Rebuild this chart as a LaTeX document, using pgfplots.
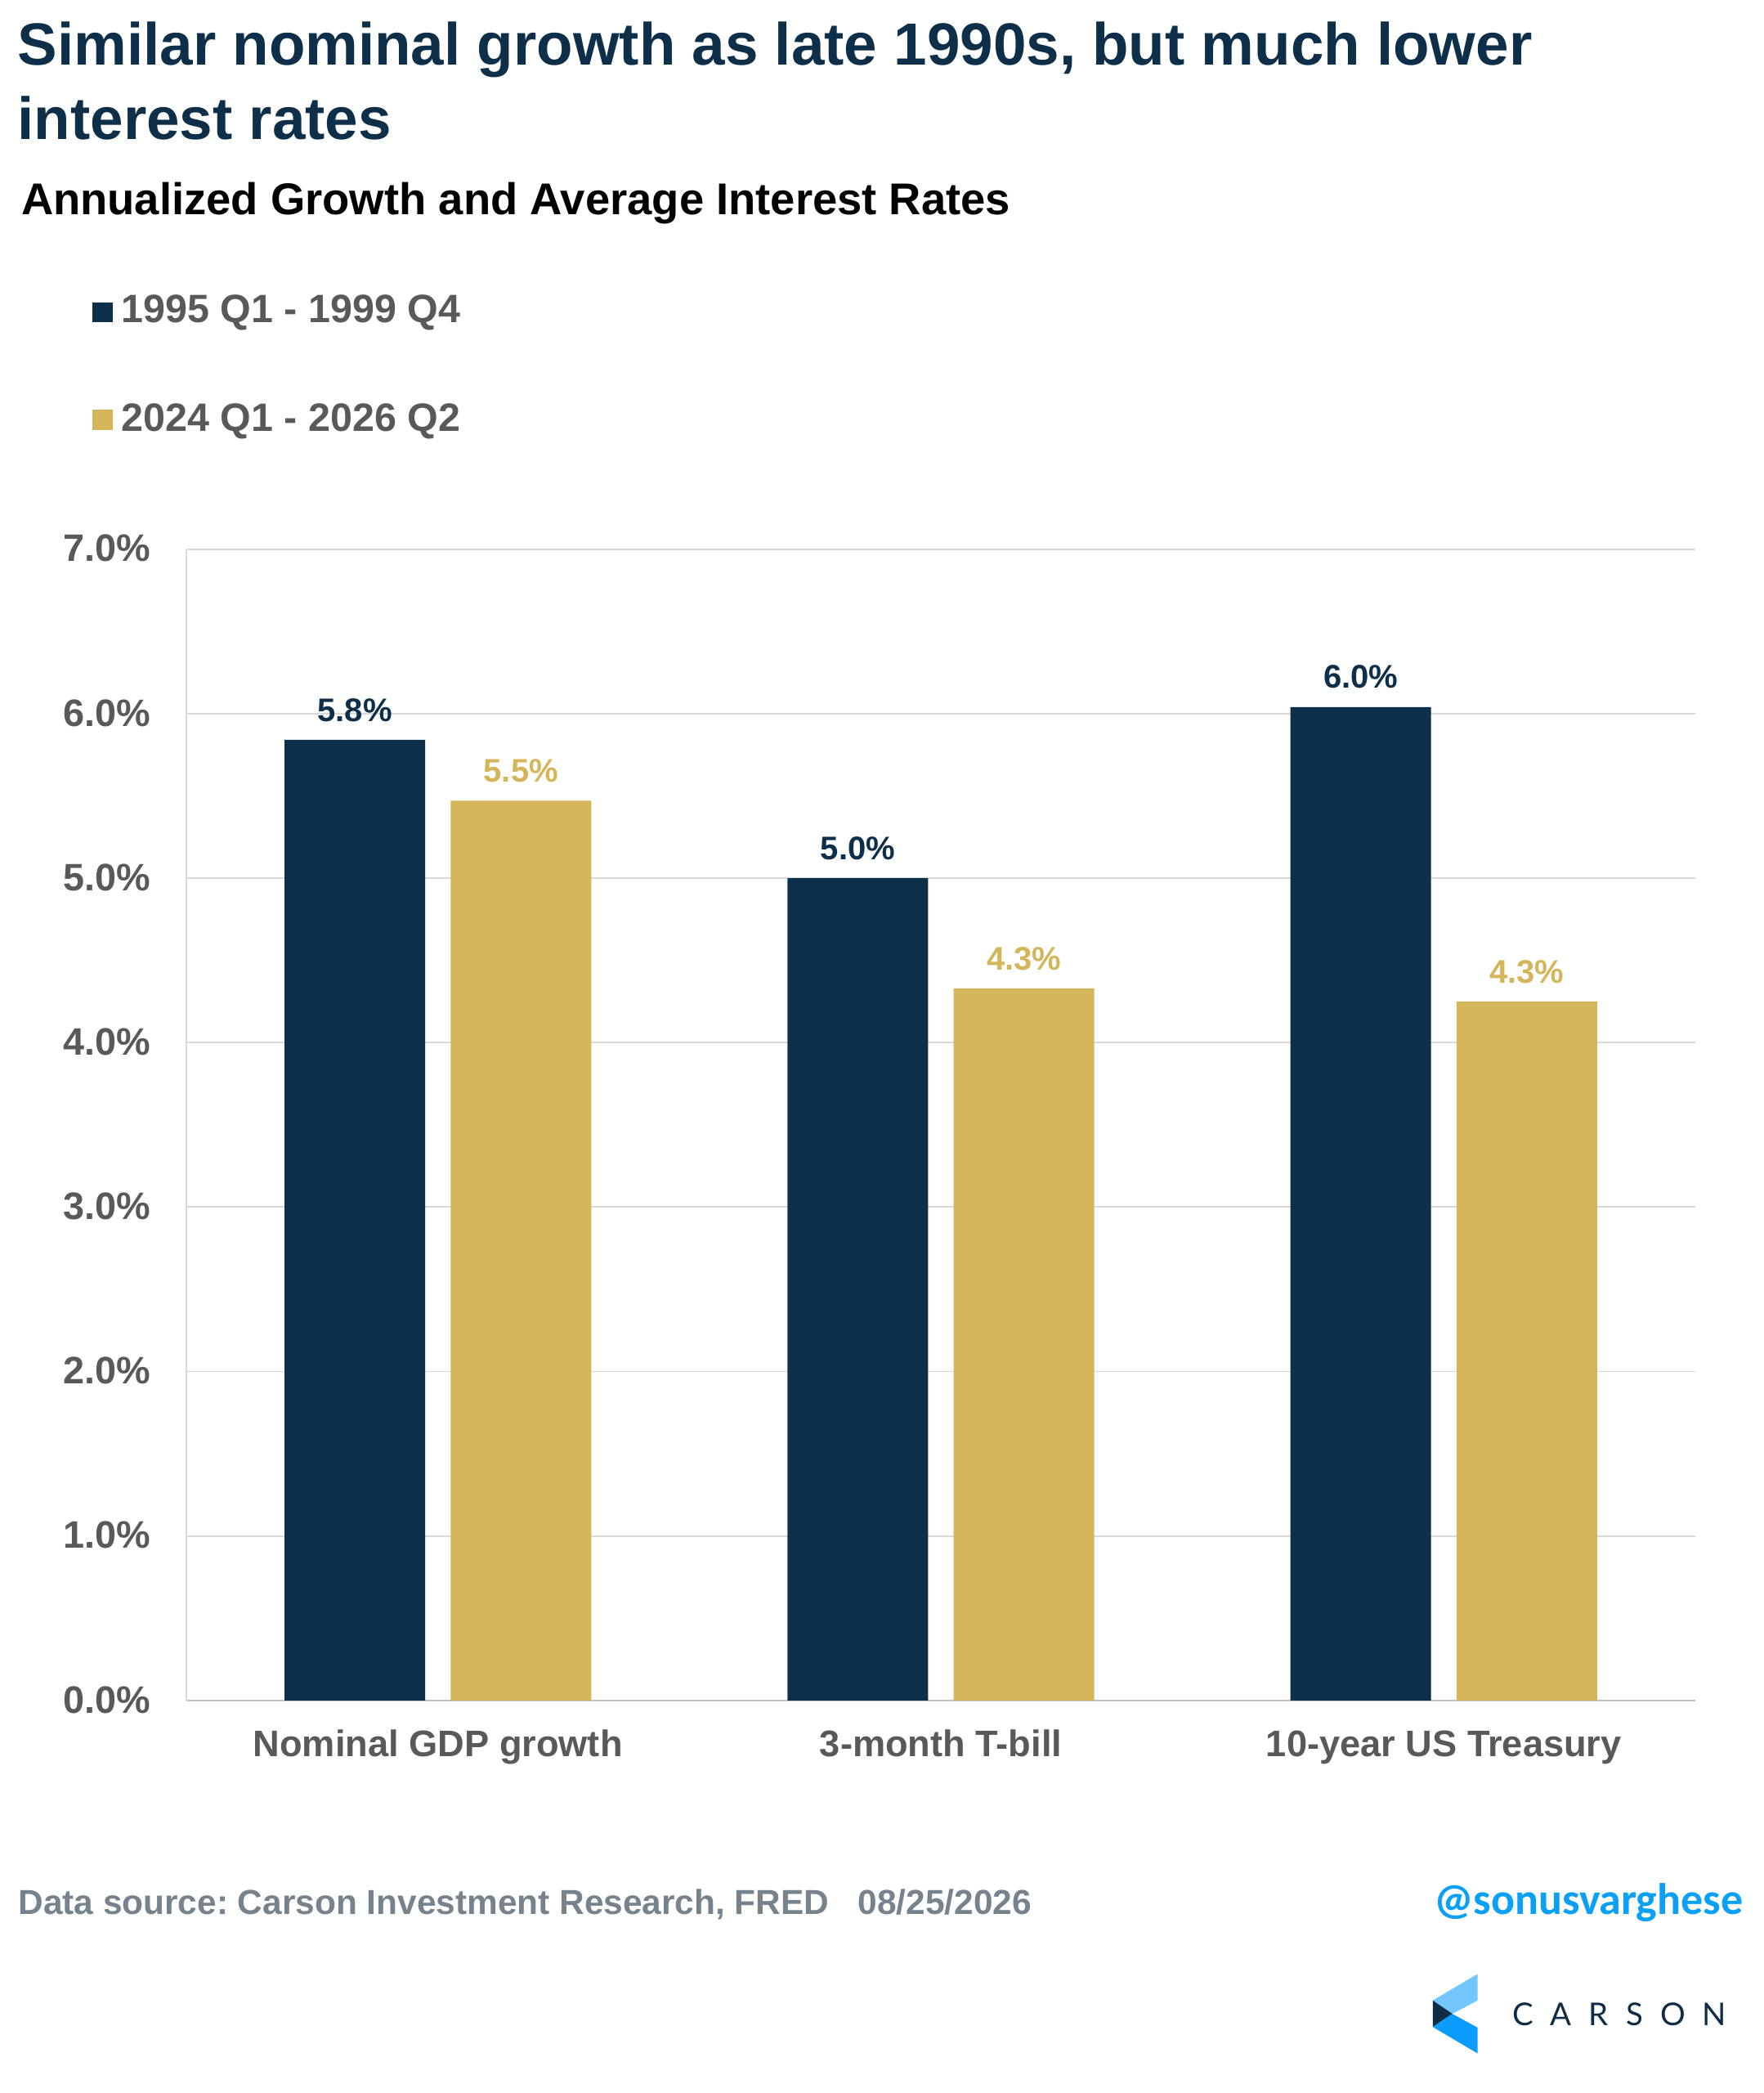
\documentclass[border=0pt]{standalone}
\usepackage{fontspec}
\setmainfont{Liberation Sans}
\newfontfamily\carlito{Carlito}
\newfontfamily\carsonfont[LetterSpace=55]{Lato}
\usepackage{pgfplots}
\pgfplotsset{compat=1.18}
\definecolor{navy}{HTML}{0E2F4A}
\definecolor{gold}{HTML}{D5B559}
\definecolor{txtgray}{HTML}{595959}
\definecolor{gridgray}{HTML}{D9D9D9}
\definecolor{axgray}{HTML}{BFBFBF}
\definecolor{srcgray}{HTML}{76838D}
\definecolor{twblue}{HTML}{0AA0F5}
\definecolor{lblue}{HTML}{74C6FF}
\definecolor{bblue}{HTML}{0A9CFF}
\definecolor{lnavy}{HTML}{0E2C45}
\frenchspacing
\begin{document}
\begin{tikzpicture}
\useasboundingbox (0pt,0pt) rectangle (539.5pt,640pt);
% titles
\node[anchor=base west, inner sep=0, text=navy, font=\bfseries\fontsize{18.2}{22}\selectfont] at (5.2pt,620.1pt) {Similar nominal growth as late 1990s, but much lower};
\node[anchor=base west, inner sep=0, text=navy, font=\bfseries\fontsize{18.2}{22}\selectfont] at (5.2pt,597.25pt) {interest rates};
\node[anchor=base west, inner sep=0, text=black, font=\bfseries\fontsize{13.6}{16}\selectfont] at (6.3pt,574.25pt) {Annualized Growth and Average Interest Rates};
% legend
\fill[navy] (28.25pt,541.5pt) rectangle (34.4pt,547.5pt);
\node[anchor=base west, inner sep=0, text=txtgray, font=\bfseries\fontsize{12.1}{14}\selectfont] at (37pt,541.25pt) {1995 Q1 - 1999 Q4};
\fill[gold] (28.25pt,508.5pt) rectangle (34.4pt,514.75pt);
\node[anchor=base west, inner sep=0, text=txtgray, font=\bfseries\fontsize{12.1}{14}\selectfont] at (37pt,508pt) {2024 Q1 - 2026 Q2};
\begin{axis}[
  at={(57pt,120pt)}, anchor=south west,
  scale only axis, width=461.5pt, height=352.1pt,
  clip=false,
  ybar=7.8pt, bar width=43pt,
  xmin=-0.5, xmax=2.5, ymin=0, ymax=7,
  xtick={0,1,2},
  xticklabels={Nominal GDP growth,3-month T-bill,10-year US Treasury},
  ytick={0,1,2,3,4,5,6,7},
  yticklabel={\pgfmathprintnumber[fixed,fixed zerofill,precision=1]{\tick}\%},
  /pgf/number format/assume math mode=true,
  axis x line*=bottom, axis y line*=left,
  axis line style={-},
  x axis line style={color=axgray, line width=0.65pt},
  y axis line style={color=gridgray, line width=0.45pt},
  ymajorgrids, grid style={color=gridgray, line width=0.45pt},
  major tick length=0pt,
  xticklabel style={anchor=base, inner sep=0pt, yshift=-17.25pt, text=txtgray, font=\bfseries\fontsize{11.3}{13}\selectfont},
  yticklabel style={anchor=base east, inner sep=0pt, xshift=-10.8pt, yshift=-3.8pt, text=txtgray, font=\bfseries\fontsize{11.7}{14}\selectfont},
  nodes near coords={\pgfmathprintnumber[fixed,fixed zerofill,precision=1]{\pgfplotspointmeta}\%},
  point meta=y,
]
\addplot[fill=navy, draw=none,
  nodes near coords style={anchor=base, inner sep=0pt, yshift=5.7pt, text=navy, font=\bfseries\fontsize{10}{12}\selectfont}]
  coordinates {(0,5.84) (1,5.00) (2,6.04)};
\addplot[fill=gold, draw=none,
  nodes near coords style={anchor=base, inner sep=0pt, yshift=5.7pt, text=gold, font=\bfseries\fontsize{10}{12}\selectfont}]
  coordinates {(0,5.47) (1,4.33) (2,4.25)};
\end{axis}
% footer
\node[anchor=base west, inner sep=0, text=srcgray, font=\bfseries\fontsize{10.6}{13}\selectfont] at (5.4pt,54.6pt) {Data source: Carson Investment Research, FRED\ \ \ 08/25/2026};
\node[anchor=base east, inner sep=0, text=twblue, font=\carlito\bfseries\fontsize{13.5}{16}\selectfont] at (533.3pt,54.5pt) {@sonusvarghese};
% logo
\fill[lblue] (438.2pt,28.3pt)--(451.9pt,36.4pt)--(451.9pt,28.3pt)--(444.2pt,24.2pt)--cycle;
\fill[lnavy] (438.2pt,28.3pt)--(444.2pt,24.2pt)--(438.2pt,20.2pt)--cycle;
\fill[bblue] (438.2pt,20.2pt)--(444.2pt,24.2pt)--(451.9pt,20.0pt)--(451.9pt,12.1pt)--cycle;
\node[anchor=base west, inner sep=0, text=lnavy, font=\carsonfont\fontsize{9.6}{12}\selectfont] at (462.3pt,20.6pt) {CARSON};
\end{tikzpicture}
\end{document}
